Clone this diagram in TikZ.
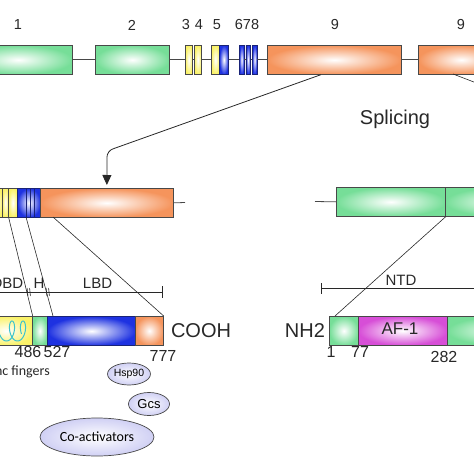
\documentclass[tikz,border=0pt]{standalone}
\usepackage{fontspec}
\setmainfont{Liberation Sans}
\newfontfamily\calibfont{Carlito}
\usetikzlibrary{arrows.meta,shapes.geometric,calc}
\definecolor{gexon}{RGB}{118,222,152}
\definecolor{yexon}{RGB}{250,242,105}
\definecolor{bexon}{RGB}{30,50,225}
\definecolor{oexon}{RGB}{245,148,92}
\definecolor{mexon}{RGB}{215,78,215}
\definecolor{edge}{RGB}{72,72,72}
\definecolor{bedge}{RGB}{25,35,120}
\definecolor{lav}{RGB}{208,208,244}
\definecolor{zinc}{RGB}{60,195,205}
\definecolor{ink}{RGB}{40,40,40}
\tikzset{exon/.style = {draw = edge, line width = 0.7, inner sep = 0, minimum height = 29, anchor = north west, shade, inner color = white, outer color = #1}}
\tikzset{bexon/.style = {exon = bexon, draw = bedge}}
\tikzset{intron/.style = {draw = edge, line width = 0.8}}
\tikzset{link/.style = {draw = ink, line width = 0.6}}
\tikzset{cofac/.style = {ellipse, draw = edge, line width = 0.7, inner sep = 0, shade, inner color = white, outer color = lav}}
\tikzset{lab/.style = {text = ink, inner sep = 0, font = \fontsize{14.5}{17}\selectfont}}
\tikzset{dlab/.style = {text = ink, inner sep = 0, font = \fontsize{15}{18}\selectfont}}
\tikzset{num/.style = {text = ink, inner sep = 0, font = \fontsize{16}{19}\selectfont}}
\tikzset{big/.style = {text = ink, inner sep = 0, font = \fontsize{20}{24}\selectfont}}

\begin{document}
\begin{tikzpicture}[x = 1pt, y = -1pt]
    \useasboundingbox (0, 0) rectangle (474, 474);
    \clip (0, 0) rectangle (474, 474);

    \node [exon = gexon, minimum width = 108] (e1) at (-36, 45) {};
    \node [exon = gexon, minimum width = 74] (e2) at (95, 45) {};
    \node [exon = yexon, minimum width = 7] (e3) at (185, 45) {};
    \node [exon = yexon, minimum width = 7] (e4) at (194, 45) {};
    \node [exon = yexon, minimum width = 8] (e5a) at (211, 45) {};
    \node [bexon, minimum width = 9] (e5b) at (219, 45) {};
    \node [bexon, minimum width = 4.5] (e6) at (239, 45) {};
    \node [bexon, minimum width = 4.5] (e7) at (245.5, 45) {};
    \node [bexon, minimum width = 4.5] (e8) at (252, 45) {};
    \node [exon = oexon, minimum width = 134] (e9) at (267, 45) {};
    \node [exon = oexon, minimum width = 86] (e9b) at (418, 45) {};
    \foreach \a/\b in {e1/e2, e2/e3, e3/e4, e4/e5a, e5b/e6, e6/e7, e7/e8, e8/e9, e9/e9b}
      \draw [intron] (\a.east) -- (\b.west);

    \node [lab] (l1) at (18, 25) {1};
    \node [lab] (l2) at (132, 25) {2};
    \node [lab] (l3) at (186, 25) {3};
    \node [lab] (l4) at (199, 25) {4};
    \node [lab] (l5) at (217, 25) {5};
    \node [lab] (l678) at (247, 25) {678};
    \node [lab] (l9) at (335, 25) {9};
    \node [lab] (l9b) at (461, 25) {9};
    \node [big] (spl) at (395, 119) {Splicing};

    \node [exon = yexon, minimum width = 12] (m2) at (-10, 188) {};
    \node [exon = yexon, minimum width = 6] (m3) at (2, 188) {};
    \node [exon = yexon, minimum width = 9] (m4) at (8, 188) {};
    \node [bexon, minimum width = 23] (m5) at (17, 188) {};
    \node [exon = oexon, minimum width = 133] (m9) at (40, 188) {};
    \foreach \x in {26, 30, 34.5}
      \draw [bedge, line width = 0.8] (\x, 188) -- (\x, 217);
    \coordinate (mend) at (185, 202.5);
    \draw [intron] (m9.east) -- (mend);

    \node [exon = gexon, minimum width = 109] (n1) at (336, 187) {};
    \node [exon = gexon, minimum width = 115] (n2) at (445, 187) {};
    \coordinate (n0) at (315, 201.5);
    \draw [intron] (n0) -- (n1.west);

    \coordinate (s9) at ($(e9.south west)!0.4!(e9.south east)$);
    \draw [link, line width = 0.8, rounded corners = 6, -{Triangle[width = 9, length = 10]}, shorten > = 3]
      (s9) -- (107, 151) -- (m9.north);
    \coordinate (s9b) at (453, 74);
    \coordinate (r9) at (560, 115);
    \draw [link] (s9b) -- (r9);

    \node [exon = yexon, minimum width = 52] (pz) at (-20, 316) {};
    \node [exon = gexon, minimum width = 15] (ph) at (32, 316) {};
    \node [bexon, line width = 1.1, minimum width = 88] (pl) at (47, 316) {};
    \node [exon = oexon, minimum width = 28] (pc) at (135, 316) {};
    \draw [zinc, line width = 1] plot [domain = -1.3:11.3, samples = 100, smooth]
      ({6.5 + 1.75*\x + 5*sin(\x r)}, {331 + 10*cos(\x r)});
    \node [big] (cooh) at (201, 330.5) {COOH};

    \node [exon = gexon, minimum width = 29] (pg1) at (329, 316) {};
    \node [exon = mexon, minimum width = 89] (paf) at (358, 316) {};
    \node [exon = gexon, minimum width = 113] (pg2) at (447, 316) {};
    \node [big] (nh2) at (305, 330.5) {NH2};
    \node [big, font = \fontsize{17}{20}\selectfont] (af1) at (400, 329) {AF-1};

    \coordinate (d0) at (-10, 292);
    \coordinate (d1) at (163, 292);
    \draw [link, -{Bar[width = 12]}] (d0) -- (d1);
    \foreach \x in {27.5, 30, 46.5, 49}
      \draw [link] (\x - 0.4, 288) -- (\x + 0.4, 296);
    \node [dlab, anchor = east] (dbd) at (23.5, 283) {DBD};
    \node [dlab] (hng) at (39, 283) {H};
    \node [dlab] (lbd) at (97.5, 283) {LBD};

    \coordinate (t0) at (321, 288);
    \coordinate (t1) at (560, 288);
    \draw [link, {Bar[width = 11]}-] (t0) -- (t1);
    \node [dlab] (ntd) at (401, 280) {NTD};

    \coordinate (ms) at (26, 217);
    \coordinate (pb) at (53, 316);
    \coordinate (mo) at (53, 217);
    \coordinate (pn) at (335, 316);
    \draw [link] (m3.south east) -- (pz.north east);
    \draw [link] (ms) -- (pb);
    \draw [link] (mo) -- (pc.north east);
    \draw [link] (n1.south east) -- (pn);

    \node [num] (k486) at (28, 352) {486};
    \node [num] (k527) at (57, 352) {527};
    \node [num] (k777) at (163, 356) {777};
    \node [num] (k1) at (331, 352) {1};
    \node [num] (k77) at (360, 352) {77};
    \node [num] (k282) at (444, 357) {282};
    \node [text = ink, inner sep = 0, anchor = east, font = \calibfont\fontsize{14}{17}\selectfont] (zf) at (50, 372) {Zinc fingers};

    \node [cofac, minimum width = 35, minimum height = 22, font = \fontsize{10.5}{12}\selectfont] (hsp) at (129, 374) {Hsp90};
    \node [cofac, minimum width = 41, minimum height = 23, font = \fontsize{13}{15}\selectfont] (gcs) at (149, 404) {Gcs};
    \node [cofac, minimum width = 114, minimum height = 38, font = \calibfont\fontsize{14}{17}\selectfont] (coa) at (97, 437) {Co-activators};
\end{tikzpicture}
\end{document}
